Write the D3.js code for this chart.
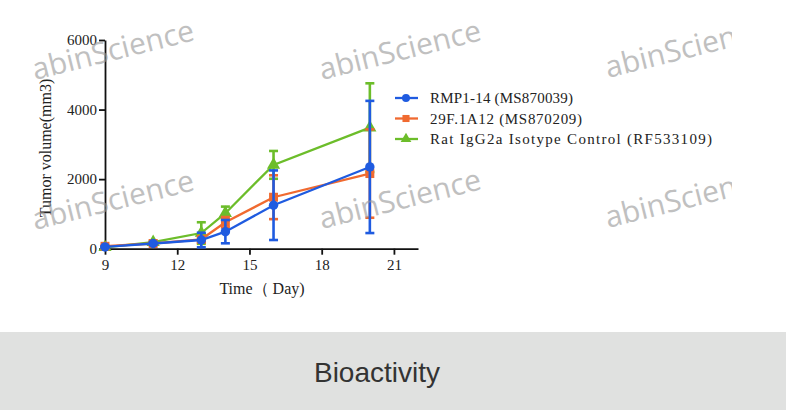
<!DOCTYPE html>
<html>
<head>
<meta charset="utf-8">
<script src="https://cdn.jsdelivr.net/npm/d3@7"></script>
<style>
  body { margin: 0; background: #fff; }
  svg { display: block; }
  .tick text { font-family: "Liberation Serif", "Times New Roman", serif; font-size: 15px; fill: #222; }
  .axis path, .axis line { stroke: #111; stroke-width: 1.8; }
  .wm { font-family: "Open Sans", "Noto Sans", sans-serif; font-size: 30px; fill: #9a9a9a; opacity: 0.62; }
  .legend text { font-family: "Liberation Serif", "Times New Roman", serif; font-size: 15px; fill: #222; }
</style>
</head>
<body>
<div id="chart"></div>
<script>
// data
const days = [9, 11, 13, 14, 16, 20];
const seriesNames = ["RMP1-14 (MS870039)", "29F.1A12 (MS870209)", "Rat IgG2a Isotype Control (RF533109)"];
const rmpMean = [50, 150, 250, 490, 1250, 2350];
const rmpSd = [20, 30, 210, 335, 1000, 1900];
const a12Mean = [70, 150, 270, 760, 1480, 2160];
const a12Sd = [20, 40, 80, 150, 630, 1270];
const igMean = [40, 190, 450, 1020, 2410, 3480];
const igSd = [20, 30, 310, 190, 400, 1275];
const xTicks = [9, 12, 15, 18, 21];
const yTicks = [0, 2000, 4000, 6000];
const colors = ["#1f5be0", "#f06a30", "#6cbd2a"];
const shapes = [d3.symbolCircle, d3.symbolSquare, d3.symbolTriangle];

const W = 786, H = 410;
const svg = d3.select("#chart").append("svg")
    .attr("width", W)
    .attr("height", H);

// scales
const x = d3.scaleLinear().domain([9, 22]).range([105, 418]);
const y = d3.scaleLinear().domain([0, 6000]).range([248.7, 40]);

const series = [
    {name: seriesNames[0], mean: rmpMean, sd: rmpSd, color: colors[0], shape: shapes[0], size: 70, len: 143},
    {name: seriesNames[1], mean: a12Mean, sd: a12Sd, color: colors[1], shape: shapes[1], size: 80, len: 152},
    {name: seriesNames[2], mean: igMean, sd: igSd, color: colors[2], shape: shapes[2], size: 75, len: 282}
];

// axes
svg.append("g")
    .attr("class", "axis")
    .attr("transform", `translate(0, ${y(0)})`)
    .call(d3.axisBottom(x).tickValues(xTicks).tickFormat(d3.format("d")).tickSize(6).tickPadding(3).tickSizeOuter(0))
    .call(g => g.selectAll(".tick text").attr("dy", "0.85em"));

svg.append("g")
    .attr("class", "axis")
    .attr("transform", `translate(${x(9)}, 0)`)
    .call(d3.axisLeft(y).tickValues(yTicks).tickFormat(d3.format("d")).tickSize(6).tickPadding(2).tickSizeOuter(0));

svg.append("text")
    .attr("transform", "translate(51, 148) rotate(-90)")
    .attr("text-anchor", "middle")
    .style("font-family", "'Liberation Serif', serif")
    .style("font-size", "16px")
    .attr("fill", "#222")
    .text("Tumor volume(mm3)");

svg.append("text")
    .attr("x", 262)
    .attr("y", 294)
    .attr("text-anchor", "middle")
    .style("font-family", "'Liberation Serif', serif")
    .style("font-size", "16px")
    .attr("fill", "#222")
    .text("Time（ Day)");

// error bars, lines, markers (drawn back to front)
const line = d3.line()
    .x((d, i) => x(days[i]))
    .y(d => y(d));

const drawOrder = [2, 1, 0];
drawOrder.forEach(k => {
    const s = series[k];
    const g = svg.append("g");
    const pts = days.map((d, i) => ({day: d, m: s.mean[i], sd: s.sd[i]}));

    g.selectAll(".bar").data(pts).enter().append("line")
        .attr("x1", d => x(d.day)).attr("x2", d => x(d.day))
        .attr("y1", d => y(d.m + d.sd)).attr("y2", d => y(Math.max(0, d.m - d.sd)))
        .attr("stroke", s.color).attr("stroke-width", 2.6);

    ["up", "down"].forEach(dir => {
        g.selectAll(".cap" + dir).data(pts).enter().append("line")
            .attr("x1", d => x(d.day) - 4.5).attr("x2", d => x(d.day) + 4.5)
            .attr("y1", d => y(dir === "up" ? d.m + d.sd : Math.max(0, d.m - d.sd)))
            .attr("y2", d => y(dir === "up" ? d.m + d.sd : Math.max(0, d.m - d.sd)))
            .attr("stroke", s.color).attr("stroke-width", 2.6);
    });

    g.append("path")
        .attr("d", line(s.mean))
        .attr("fill", "none")
        .attr("stroke", s.color)
        .attr("stroke-width", 2.3);

    g.selectAll(".mark").data(pts).enter().append("path")
        .attr("transform", d => `translate(${x(d.day)}, ${y(d.m)})`)
        .attr("d", d3.symbol().type(s.shape).size(s.size))
        .attr("fill", s.color);
});

// legend
const legend = svg.append("g").attr("class", "legend");
series.forEach((s, i) => {
    const ly = 98 + i * 20.5;
    legend.append("line")
        .attr("x1", 395).attr("x2", 418)
        .attr("y1", ly).attr("y2", ly)
        .attr("stroke", s.color).attr("stroke-width", 2.3);
    legend.append("path")
        .attr("transform", `translate(406, ${ly})`)
        .attr("d", d3.symbol().type(s.shape).size(50))
        .attr("fill", s.color);
    legend.append("text")
        .attr("x", 430)
        .attr("y", ly + 5)
        .attr("textLength", s.len)
        .attr("lengthAdjust", "spacing")
        .text(s.name);
});

// watermarks
svg.append("clipPath").attr("id", "imgclip")
    .append("rect").attr("x", 0).attr("y", 0).attr("width", 732).attr("height", 320);
const wm = svg.append("g").attr("clip-path", "url(#imgclip)");
const wmPos = [[35, 80], [322, 80], [608, 78], [35, 230], [322, 229], [608, 228]];
wm.selectAll("text").data(wmPos).enter().append("text")
    .attr("class", "wm")
    .attr("transform", d => `translate(${d[0]}, ${d[1]}) rotate(-14)`)
    .text("abinScience");

// caption band
svg.append("rect")
    .attr("x", 0).attr("y", 332)
    .attr("width", W).attr("height", H - 332)
    .attr("fill", "#e0e1e0");
svg.append("text")
    .attr("x", 377)
    .attr("y", 382)
    .attr("text-anchor", "middle")
    .style("font-family", "'Liberation Sans', Arial, sans-serif")
    .style("font-size", "28px")
    .attr("fill", "#333")
    .text("Bioactivity");
</script>
</body>
</html>
